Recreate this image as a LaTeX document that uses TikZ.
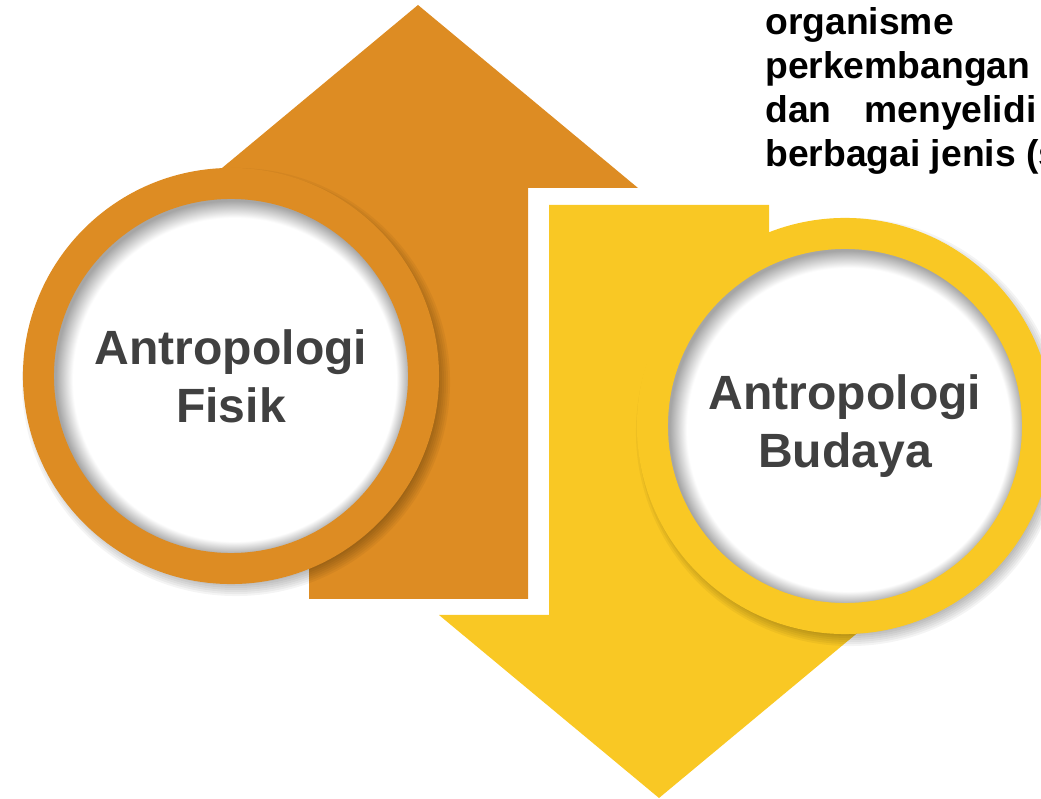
\documentclass[tikz,border=0pt]{standalone}
\usepackage{fontspec}
\setmainfont{Liberation Sans}
\usepackage{tikz}
\definecolor{ArrowOrange}{HTML}{DD8C23}
\definecolor{ArrowYellow}{HTML}{F9C824}
\definecolor{LabelGray}{HTML}{404040}
\pgfdeclareradialshading{innerglow}{\pgfpoint{0.1cm}{-0.1cm}}{color(0bp)=(white); color(21bp)=(white); color(23bp)=(black!35); color(25bp)=(black!35)}
\tikzset{
  ring/.style={circle,minimum size=9.625cm,inner sep=0pt,line width=0.775cm,
              shade,shading=innerglow,align=center,text=LabelGray,
              font=\bfseries\fontsize{34.2}{41}\selectfont},
  orangering/.style={ring,draw=ArrowOrange},
  yellowring/.style={ring,draw=ArrowYellow},
  bodytext/.style={anchor=base west,inner sep=0pt,font=\bfseries\fontsize{26.5}{31}\selectfont}
}

\begin{document}
\begin{tikzpicture}[x=0.025cm,y=-0.025cm]
  \useasboundingbox (0,0) rectangle (1041,799);
  % the two arrows
  \fill[ArrowOrange] (418,5) -- (638,188) -- (528,188) -- (528,599) -- (309,599)
    -- (309,188) -- (198,188) -- cycle;
  \fill[ArrowYellow] (659,798) -- (879,615) -- (769,615) -- (769,205) -- (549,205)
    -- (549,615) -- (439,615) -- cycle;

  \coordinate (fisikc) at (231,376);
  \coordinate (budayac) at (845,426);
  % soft shadows under the rings
  \foreach \k in {1,...,8} {
    \fill[black,opacity=0.045] ([shift={(5,6)}]fisikc) circle[radius={4.95cm+\k*0.05cm}];
    \fill[black,opacity=0.045] ([shift={(5,6)}]budayac) circle[radius={4.95cm+\k*0.05cm}];
  }

  \node[orangering] (fisik) at (fisikc) {Antropologi\\Fisik};
  \node[yellowring] (budaya) at (budayac) {Antropologi\\Budaya};

  % text cut off at the right edge
  \foreach \line [count=\i] in {organisme,perkembangan,{dan\hspace{0.825cm}menyelidi},{berbagai jenis (s}}
    \node[bodytext] (line\i) at (765,{35+(\i-1)*43.7}) {\line};
\end{tikzpicture}
\end{document}
